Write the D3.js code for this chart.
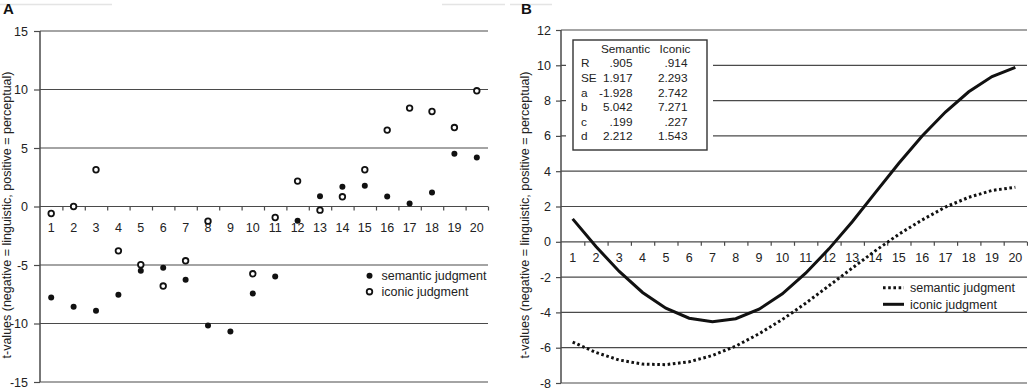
<!DOCTYPE html>
<html>
<head>
  <meta charset="utf-8">
  <style>
    body { margin: 0; background: #fff; }
    svg { display: block; font-family: Arial, "Liberation Sans", sans-serif; }
  </style>
  <script src="https://d3js.org/d3.v7.min.js"></script>
</head>
<body>
  <div id="chart"></div>
  <script>
    // data
    const categories = ["1","2","3","4","5","6","7","8","9","10","11","12","13","14","15","16","17","18","19","20"];
    const semanticA = [-7.78,-8.57,-8.91,-7.55,-5.5,-5.24,-6.26,-10.17,-10.68,-7.44,-5.98,-1.22,0.88,1.68,1.77,0.85,0.26,1.2,4.5,4.19];
    const iconicA = [-0.6,0.0,3.14,-3.79,-4.98,-6.8,-4.64,-1.25,null,-5.75,-0.94,2.17,-0.31,0.83,3.14,6.53,8.41,8.12,6.75,9.89];
    const semanticB = [-5.68,-6.27,-6.70,-6.93,-6.96,-6.80,-6.44,-5.91,-5.21,-4.40,-3.48,-2.49,-1.49,-0.50,0.43,1.24,1.97,2.52,2.91,3.09];
    const iconicB = [1.30,-0.27,-1.68,-2.87,-3.76,-4.33,-4.53,-4.36,-3.82,-2.95,-1.78,-0.40,1.14,2.80,4.45,5.99,7.35,8.50,9.36,9.88];
    const yTicksA = [-15,-10,-5,0,5,10,15];
    const yTicksB = [-8,-6,-4,-2,0,2,4,6,8,10,12];
    const tableHead = ["Semantic","Iconic"];
    const tableRows = ["R","SE","a","b","c","d"];
    const tableSemantic = [".905","1.917","-1.928","5.042",".199","2.212"];
    const tableIconic = [".914","2.293","2.742","7.271",".227","1.543"];
    const yTitle = "t-values (negative = linguistic, positive = perceptual)";

    const W = 1028, H = 388;
    const svg = d3.select("#chart").append("svg").attr("width", W).attr("height", H);
    const gridColor = "#4a4a4a";

    // faint header rules
    [[0,112],[442,505],[510,552]].forEach(([a,b]) => {
      svg.append("line").attr("x1",a).attr("x2",b).attr("y1",4.5).attr("y2",4.5)
        .attr("stroke","#e4e4e4").attr("stroke-width",1.5);
    });

    function panel(opt) {
      const x = d3.scaleBand().domain(categories).range([opt.left, opt.right]);
      const xb = d3.scaleLinear().domain([0, categories.length]).range([opt.left, opt.right]);
      const y = d3.scaleLinear().domain(opt.yDomain).range([opt.bottom, opt.top]);
      const cx = d => x(d) + x.bandwidth() / 2;

      // gridlines
      svg.append("g").selectAll("line").data(opt.yTicks.filter(v => v !== 0)).join("line")
        .attr("x1", opt.left).attr("x2", opt.right)
        .attr("y1", d => y(d)).attr("y2", d => y(d))
        .attr("stroke", gridColor).attr("stroke-width", 1.2);

      // y axis
      const ya = svg.append("g").attr("transform", `translate(${opt.left},0)`)
        .call(d3.axisLeft(y).tickValues(opt.yTicks).tickSize(opt.tickY).tickPadding(opt.padY)
          .tickFormat(d => String(d)));
      ya.select(".domain").attr("stroke", gridColor).attr("stroke-width", 1.5)
        .attr("d", `M0,${opt.top}V${opt.bottom}`);
      ya.selectAll(".tick line").attr("stroke", gridColor).attr("stroke-width", 1.2);
      ya.selectAll("text").attr("font-size", 12.5).attr("fill", "#222");

      // x axis at zero: boundary ticks
      const xa = svg.append("g").attr("transform", `translate(0,${y(0)})`)
        .call(d3.axisBottom(xb).tickValues(d3.range(1, categories.length + 1)).tickSize(4).tickFormat(""));
      xa.select(".domain").attr("stroke", gridColor).attr("stroke-width", 1.2)
        .attr("d", `M${opt.left},0H${opt.right}`);
      xa.selectAll(".tick line").attr("stroke", gridColor).attr("stroke-width", 1.2);

      // category labels
      const xl = svg.append("g").attr("transform", `translate(0,${y(0)})`)
        .call(d3.axisBottom(x).tickSize(0).tickPadding(opt.padX));
      xl.select(".domain").remove();
      xl.selectAll("text").attr("font-size", 12.5).attr("fill", "#222");

      // y title
      svg.append("text")
        .attr("transform", `translate(${opt.titleX},${opt.titleY}) rotate(-90)`)
        .attr("text-anchor", "middle").attr("font-size", 12.5).attr("fill", "#222")
        .text(yTitle);

      // panel letter
      svg.append("text").attr("x", opt.letterX).attr("y", 14)
        .attr("font-size", 15).attr("font-weight", "bold").attr("fill", "#111")
        .text(opt.letter);

      return { x, y, cx };
    }

    // ---- Panel A ----
    const A = panel({ left: 40, right: 488, top: 31, bottom: 382, yDomain: [-15, 15], yTicks: yTicksA,
      tickY: 6, padY: 6, padX: 17, titleX: 11, titleY: 215, letter: "A", letterX: 3 });

    const ptsIconic = categories.map((c, i) => ({ c, v: iconicA[i] })).filter(d => d.v !== null);
    const ptsSemantic = categories.map((c, i) => ({ c, v: semanticA[i] }));

    svg.append("g").selectAll("circle").data(ptsIconic).join("circle")
      .attr("cx", d => A.cx(d.c)).attr("cy", d => A.y(d.v)).attr("r", 2.8)
      .attr("fill", "#fff").attr("stroke", "#111").attr("stroke-width", 1.8);
    svg.append("g").selectAll("circle").data(ptsSemantic).join("circle")
      .attr("cx", d => A.cx(d.c)).attr("cy", d => A.y(d.v)).attr("r", 3)
      .attr("fill", "#111");

    const legA = svg.append("g");
    legA.append("circle").attr("cx", 369.5).attr("cy", 275.7).attr("r", 3).attr("fill", "#111");
    legA.append("circle").attr("cx", 369.5).attr("cy", 291.7).attr("r", 2.8)
      .attr("fill", "#fff").attr("stroke", "#111").attr("stroke-width", 1.8);
    legA.append("text").attr("x", 381.5).attr("y", 275.7).attr("dy", "0.35em")
      .attr("font-size", 12.5).attr("fill", "#222").text("semantic judgment");
    legA.append("text").attr("x", 381.5).attr("y", 291.7).attr("dy", "0.35em")
      .attr("font-size", 12.5).attr("fill", "#222").text("iconic judgment");

    // ---- Panel B ----
    const B = panel({ left: 561, right: 1027, top: 30, bottom: 383, yDomain: [-8, 12], yTicks: yTicksB,
      tickY: 5, padY: 5, padX: 11, titleX: 529, titleY: 215, letter: "B", letterX: 521 });

    const line = d3.line().x(d => B.cx(d.c)).y(d => B.y(d.v));
    svg.append("path").datum(categories.map((c, i) => ({ c, v: semanticB[i] })))
      .attr("d", line).attr("fill", "none").attr("stroke", "#111")
      .attr("stroke-width", 3).attr("stroke-dasharray", "2.6,2.6");
    svg.append("path").datum(categories.map((c, i) => ({ c, v: iconicB[i] })))
      .attr("d", line).attr("fill", "none").attr("stroke", "#111").attr("stroke-width", 3);

    const legB = svg.append("g");
    legB.append("line").attr("x1", 883).attr("x2", 904).attr("y1", 287.7).attr("y2", 287.7)
      .attr("stroke", "#111").attr("stroke-width", 3).attr("stroke-dasharray", "2.6,2.6");
    legB.append("line").attr("x1", 883).attr("x2", 904).attr("y1", 304.3).attr("y2", 304.3)
      .attr("stroke", "#111").attr("stroke-width", 3);
    legB.append("text").attr("x", 910).attr("y", 287.7).attr("dy", "0.35em")
      .attr("font-size", 12.5).attr("fill", "#222").text("semantic judgment");
    legB.append("text").attr("x", 910).attr("y", 304.3).attr("dy", "0.35em")
      .attr("font-size", 12.5).attr("fill", "#222").text("iconic judgment");

    // fit table
    const tb = svg.append("g");
    tb.append("rect").attr("x", 566).attr("y", 36).attr("width", 147).attr("height", 118).attr("fill", "#fff");
    tb.append("rect").attr("x", 573).attr("y", 40).attr("width", 134).attr("height", 110)
      .attr("fill", "#fff").attr("stroke", "#333").attr("stroke-width", 1.4);
    tb.append("text").attr("x", 625.5).attr("y", 49).attr("dy", "0.35em").attr("text-anchor", "middle")
      .attr("font-size", 11.8).attr("fill", "#222").text(tableHead[0]);
    tb.append("text").attr("x", 675).attr("y", 49).attr("dy", "0.35em").attr("text-anchor", "middle")
      .attr("font-size", 11.8).attr("fill", "#222").text(tableHead[1]);
    const rowY = d3.scalePoint().domain(tableRows).range([63.3, 136.2]);
    tableRows.forEach((r, i) => {
      const yy = rowY(r);
      tb.append("text").attr("x", 581).attr("y", yy).attr("dy", "0.35em")
        .attr("font-size", 11.8).attr("fill", "#222").text(r);
      tb.append("text").attr("x", 632.5).attr("y", yy).attr("dy", "0.35em").attr("text-anchor", "end")
        .attr("font-size", 11.8).attr("fill", "#222").text(tableSemantic[i]);
      tb.append("text").attr("x", 687.5).attr("y", yy).attr("dy", "0.35em").attr("text-anchor", "end")
        .attr("font-size", 11.8).attr("fill", "#222").text(tableIconic[i]);
    });
  </script>
</body>
</html>
